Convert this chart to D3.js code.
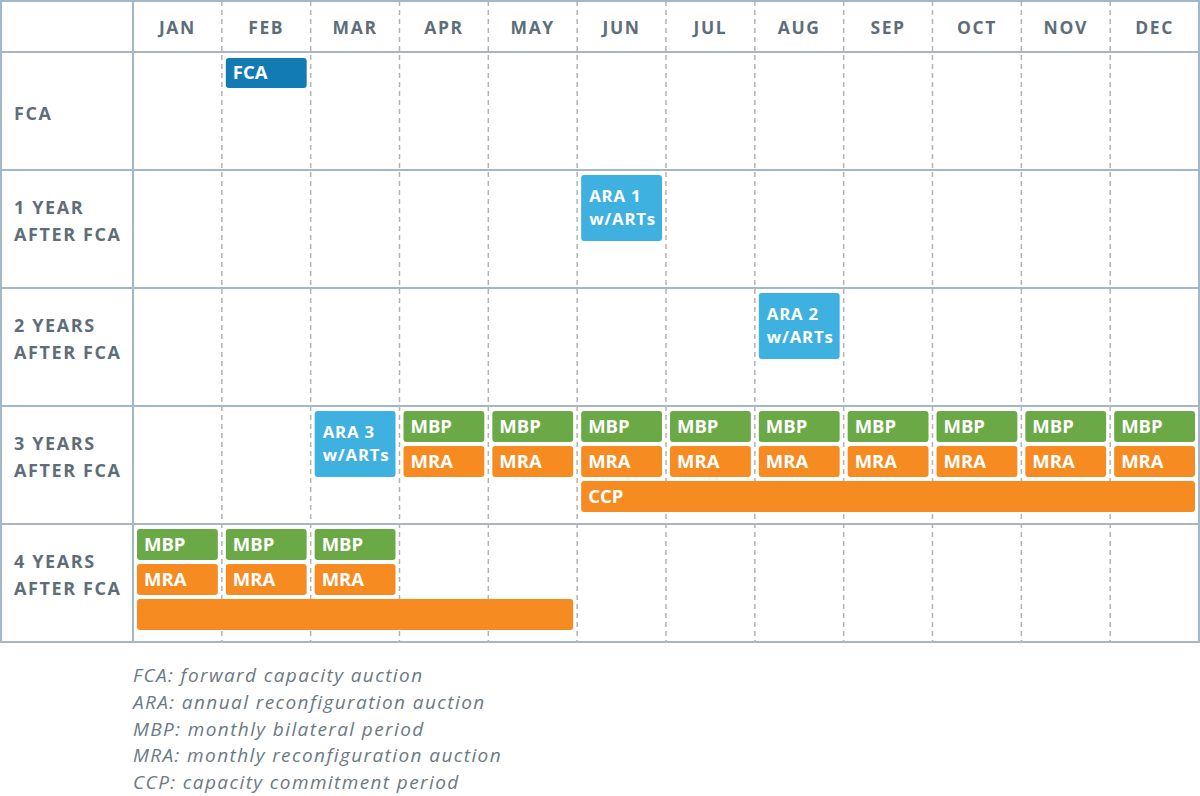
<!DOCTYPE html>
<html><head><meta charset="utf-8">
<script src="https://cdn.jsdelivr.net/npm/d3@7"></script>
<style>body{margin:0;background:#fff}svg{display:block}</style>
</head><body><svg id="c" width="1200" height="796"></svg>
<script>
const months = ["JAN","FEB","MAR","APR","MAY","JUN","JUL","AUG","SEP","OCT","NOV","DEC"];
const rowLabels = [["FCA"],["1 YEAR","AFTER FCA"],["2 YEARS","AFTER FCA"],["3 YEARS","AFTER FCA"],["4 YEARS","AFTER FCA"]];
// events: [row, startMonth(0-based), endMonth(exclusive), laneStart, laneCount, label lines]
const fcaEvents = [[0,1,2,0,1,["FCA"]]];
const araEvents = [[1,5,6,0,2,["ARA 1","w/ARTs"]],[2,7,8,0,2,["ARA 2","w/ARTs"]],[3,2,3,0,2,["ARA 3","w/ARTs"]]];
const mbpMonths3 = [3,4,5,6,7,8,9,10,11];
const mbpMonths4 = [0,1,2];
const ccpEvents = [[3,5,12,2,1,["CCP"]],[4,0,5,2,1,[""]]];
const legendLines = ["FCA: forward capacity auction","ARA: annual reconfiguration auction","MBP: monthly bilateral period","MRA: monthly reconfiguration auction","CCP: capacity commitment period"];
const colors = {FCA:"#127bb3", ARA:"#3fb1e1", MBP:"#6aa945", MRA:"#f68b21", CCP:"#f68b21"};

const events = [];
fcaEvents.forEach(e=>events.push({row:e[0],s:e[1],e:e[2],l:e[3],n:e[4],text:e[5],type:"FCA"}));
araEvents.forEach(e=>events.push({row:e[0],s:e[1],e:e[2],l:e[3],n:e[4],text:e[5],type:"ARA"}));
mbpMonths3.forEach(m=>{events.push({row:3,s:m,e:m+1,l:0,n:1,text:["MBP"],type:"MBP"});events.push({row:3,s:m,e:m+1,l:1,n:1,text:["MRA"],type:"MRA"});});
mbpMonths4.forEach(m=>{events.push({row:4,s:m,e:m+1,l:0,n:1,text:["MBP"],type:"MBP"});events.push({row:4,s:m,e:m+1,l:1,n:1,text:["MRA"],type:"MRA"});});
ccpEvents.forEach(e=>events.push({row:e[0],s:e[1],e:e[2],l:e[3],n:e[4],text:e[5],type:"CCP"}));

const svg = d3.select("#c");
const mLeft = 133, mRight = 1199, mTop = 52, mBottom = 642;
const x = d3.scaleLinear().domain([0,12]).range([mLeft,mRight]);
const y = d3.scaleBand().domain(d3.range(rowLabels.length)).range([mTop,mBottom]).padding(0);
const lane = d3.scaleLinear().domain([0,3]).range([5,110]);
const gridC = "#a5b6c6", textC = "#5e6e79";

// dashed month separators
svg.append("g").selectAll("line").data(d3.range(1,12)).join("line")
  .attr("x1",d=>x(d)).attr("x2",d=>x(d)).attr("y1",1).attr("y2",mBottom)
  .attr("stroke","#b3b3b3").attr("stroke-width",1.5).attr("stroke-dasharray","5,4");

// horizontal lines
svg.append("g").selectAll("line").data([1,mTop].concat(d3.range(1,rowLabels.length+1).map(i=>mTop+i*y.bandwidth()))).join("line")
  .attr("x1",0).attr("x2",1200).attr("y1",d=>d).attr("y2",d=>d)
  .attr("stroke",gridC).attr("stroke-width",2);
// vertical solid lines
svg.append("g").selectAll("line").data([1,mLeft,mRight]).join("line")
  .attr("x1",d=>d).attr("x2",d=>d).attr("y1",0).attr("y2",mBottom+1)
  .attr("stroke",gridC).attr("stroke-width",2);

// header
svg.append("g").selectAll("text").data(months).join("text")
  .attr("x",(d,i)=>x(i+0.5)).attr("y",34).attr("text-anchor","middle")
  .attr("font-family","Open Sans").attr("font-weight","bold").attr("font-size",17.5)
  .attr("letter-spacing",1.6).attr("fill",textC).text(d=>d);

// row labels
const rl = svg.append("g").selectAll("text").data(rowLabels).join("text")
  .attr("font-family","Open Sans").attr("font-weight","bold").attr("font-size",18)
  .attr("letter-spacing",1.6).attr("fill",textC);
rl.each(function(d,i){
  const t = d3.select(this);
  const c = y(i)+y.bandwidth()/2;
  const lh = 27;
  const cy = d.length > 1 ? c - 8.5 : c + 2;
  d.forEach((s,j)=>t.append("tspan").attr("x",14).attr("y",cy + 6.5 + (j-(d.length-1)/2)*lh).text(s));
});

// bars
const g = svg.append("g").selectAll("g").data(events).join("g");
g.append("rect")
  .attr("x",d=>x(d.s)+4).attr("width",d=>x(d.e)-x(d.s)-8)
  .attr("y",d=>y(d.row)+lane(d.l)+(d.type==="FCA"?1:0))
  .attr("height",d=>lane(d.l+d.n)-lane(d.l)-4 - (d.type==="FCA"?1:0))
  .attr("rx",3).attr("fill",d=>colors[d.type]);
// single-line labels
g.filter(d=>d.text.length===1).append("text")
  .attr("font-family","Open Sans").attr("font-weight","bold").attr("font-size",18.5)
  .attr("fill","#fff")
  .attr("x",d=>x(d.s)+11)
  .attr("y",d=>y(d.row)+lane(d.l)+(lane(d.l+d.n)-lane(d.l)-4)/2+6.5)
  .text(d=>d.text[0]);
// two-line labels (one text element per line)
g.filter(d=>d.text.length>1).each(function(d){
  const gg = d3.select(this);
  const h = lane(d.l+d.n)-lane(d.l)-4;
  const c = y(d.row)+lane(d.l)+h/2;
  const lh = 23;
  d.text.forEach((s,j)=>gg.append("text")
    .attr("font-family","Open Sans").attr("font-weight","bold").attr("font-size",16.8)
    .attr("letter-spacing",0.8).attr("fill","#fff")
    .attr("x",x(d.s)+12)
    .attr("y",c + 6 + (j-(d.text.length-1)/2)*lh - 1).text(s));
});

// legend
svg.append("g").selectAll("text").data(legendLines).join("text")
  .attr("x",133).attr("y",(d,i)=>682+i*26.8)
  .attr("font-family","Open Sans").attr("font-style","italic").attr("font-size",19)
  .attr("letter-spacing",1.4)
  .attr("fill","#6a7a84").text(d=>d);
</script></body></html>
